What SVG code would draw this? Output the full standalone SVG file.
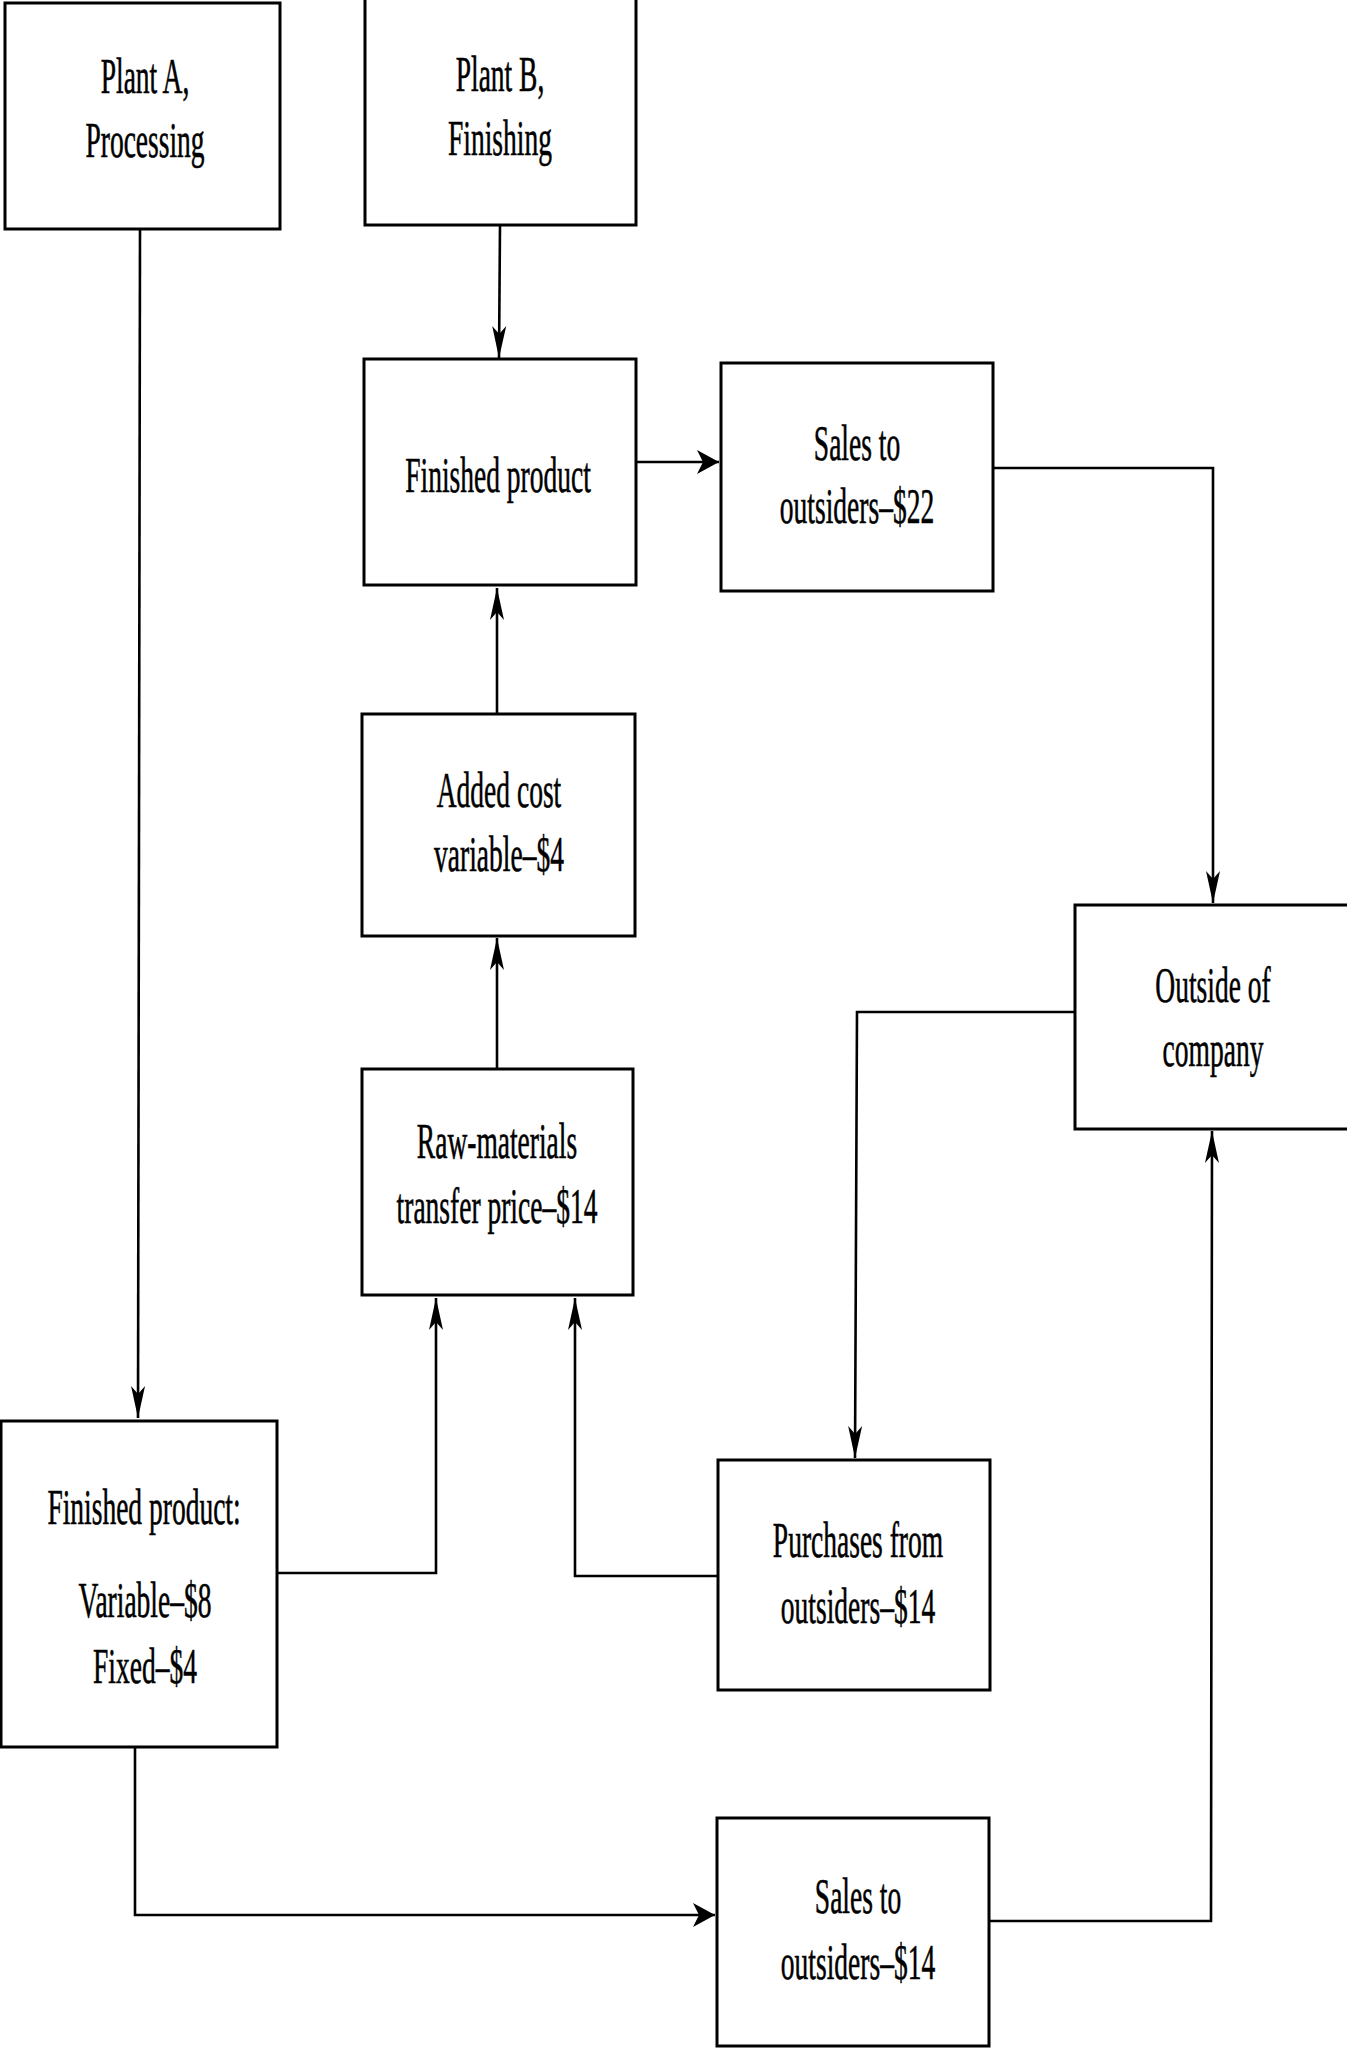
<svg xmlns="http://www.w3.org/2000/svg" width="1347" height="2049" viewBox="0 0 1347 2049">
  <style>
    .box { fill: #ffffff; stroke: #000000; stroke-width: 3; }
    .wire { fill: none; stroke: #000000; stroke-width: 2.6; }
    .lbl { font-family: "Liberation Serif", "Times New Roman", serif; font-size: 50px; fill: #000000; stroke: #000000; stroke-width: 0.6; text-anchor: middle; }
  </style>
  <defs>
    <!-- long narrow head for vertical runs -->
    <marker id="arrV" markerUnits="userSpaceOnUse" markerWidth="40" markerHeight="20" refX="0" refY="0" orient="auto" overflow="visible">
      <path d="M-32,-7 L0,0 L-32,7 L-24,0 Z" fill="#000000"/>
    </marker>
    <!-- short wide head for horizontal runs -->
    <marker id="arrH" markerUnits="userSpaceOnUse" markerWidth="30" markerHeight="30" refX="0" refY="0" orient="auto" overflow="visible">
      <path d="M-22,-12 L0,0 L-22,12 L-16,0 Z" fill="#000000"/>
    </marker>
  </defs>

  <rect width="1347" height="2049" fill="#ffffff"/>

  <g id="connectors">
    <path class="wire" d="M140,229 L138,1418" marker-end="url(#arrV)"/>
    <path class="wire" d="M500,225 L499,358" marker-end="url(#arrV)"/>
    <path class="wire" d="M636,462 L719,462" marker-end="url(#arrH)"/>
    <path class="wire" d="M993,468 L1213,468 L1213,903" marker-end="url(#arrV)"/>
    <path class="wire" d="M497,714 L497,588" marker-end="url(#arrV)"/>
    <path class="wire" d="M497,1070 L497,938" marker-end="url(#arrV)"/>
    <path class="wire" d="M1075,1012 L857,1012 L855,1458" marker-end="url(#arrV)"/>
    <path class="wire" d="M277,1573 L436,1573 L436,1298" marker-end="url(#arrV)"/>
    <path class="wire" d="M718,1576 L575,1576 L575,1298" marker-end="url(#arrV)"/>
    <path class="wire" d="M135,1747 L135,1915 L715,1915" marker-end="url(#arrH)"/>
    <path class="wire" d="M989,1921 L1211,1921 L1212,1131" marker-end="url(#arrV)"/>
  </g>

  <g id="plant-a">
    <rect class="box" x="5" y="3" width="275" height="226"/>
    <text class="lbl" transform="translate(145,93) scale(0.55,1)">Plant A,</text>
    <text class="lbl" transform="translate(145,157) scale(0.55,1)">Processing</text>
  </g>

  <g id="plant-b">
    <rect class="box" x="365" y="-2" width="271" height="227"/>
    <text class="lbl" transform="translate(500,91) scale(0.55,1)">Plant B,</text>
    <text class="lbl" transform="translate(500,155) scale(0.55,1)">Finishing</text>
  </g>

  <g id="finished-product-b">
    <rect class="box" x="364" y="359" width="272" height="226"/>
    <text class="lbl" transform="translate(498,492) scale(0.55,1)">Finished product</text>
  </g>

  <g id="sales-22">
    <rect class="box" x="721" y="363" width="272" height="228"/>
    <text class="lbl" transform="translate(857,460) scale(0.55,1)">Sales to</text>
    <text class="lbl" transform="translate(857,523) scale(0.55,1)">outsiders–$22</text>
  </g>

  <g id="added-cost">
    <rect class="box" x="362" y="714" width="273" height="222"/>
    <text class="lbl" transform="translate(499,807) scale(0.55,1)">Added cost</text>
    <text class="lbl" transform="translate(499,871) scale(0.55,1)">variable–$4</text>
  </g>

  <g id="outside-company">
    <rect class="box" x="1075" y="905" width="274" height="224"/>
    <text class="lbl" transform="translate(1213,1002) scale(0.55,1)">Outside of</text>
    <text class="lbl" transform="translate(1213,1066) scale(0.55,1)">company</text>
  </g>

  <g id="raw-materials">
    <rect class="box" x="362" y="1069" width="271" height="226"/>
    <text class="lbl" transform="translate(497,1158) scale(0.55,1)">Raw-materials</text>
    <text class="lbl" transform="translate(497,1223) scale(0.55,1)">transfer price–$14</text>
  </g>

  <g id="finished-product-a">
    <rect class="box" x="1" y="1421" width="276" height="326"/>
    <text class="lbl" transform="translate(144,1524) scale(0.55,1)">Finished product:</text>
    <text class="lbl" transform="translate(145,1617) scale(0.55,1)">Variable–$8</text>
    <text class="lbl" transform="translate(145,1683) scale(0.55,1)">Fixed–$4</text>
  </g>

  <g id="purchases-14">
    <rect class="box" x="718" y="1460" width="272" height="230"/>
    <text class="lbl" transform="translate(858,1557) scale(0.55,1)">Purchases from</text>
    <text class="lbl" transform="translate(858,1623) scale(0.55,1)">outsiders–$14</text>
  </g>

  <g id="sales-14">
    <rect class="box" x="717" y="1818" width="272" height="228"/>
    <text class="lbl" transform="translate(858,1913) scale(0.55,1)">Sales to</text>
    <text class="lbl" transform="translate(858,1979) scale(0.55,1)">outsiders–$14</text>
  </g>
</svg>
